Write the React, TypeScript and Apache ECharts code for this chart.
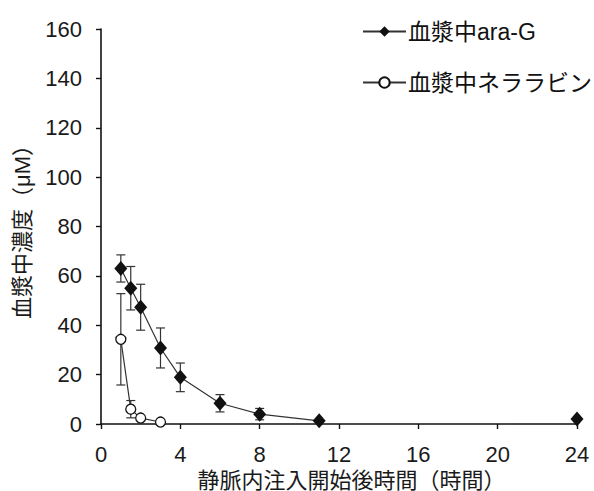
import React, { useEffect, useRef } from "react";
import * as echarts from "echarts";

const araTime = [1, 1.5, 2, 3, 4, 6, 8, 11];
const araMean = [63, 55, 47.3, 30.8, 18.9, 8.4, 4.0, 1.3];
const araSD = [5.5, 8.8, 9.3, 8.1, 5.8, 3.5, 2.3, 0];
const araLateTime = [24];
const araLateMean = [2.0];

const nelTime = [1, 1.5, 2, 3];
const nelMean = [34.3, 6.0, 2.4, 0.8];
const nelSD = [18.5, 3.5, 0, 0];

const xTicks = [0, 4, 8, 12, 16, 20, 24];
const yTicks = [0, 20, 40, 60, 80, 100, 120, 140, 160];

const FONT = "'Liberation Sans', 'Noto Sans CJK JP', sans-serif";

function errData(t: number[], m: number[], s: number[]) {
  return t
    .map((x, i) => [x, m[i] - s[i], m[i] + s[i]])
    .filter((_, i) => s[i] > 0);
}

function errRender(params: any, api: any) {
  const x = api.value(0);
  const lo = api.coord([x, api.value(1)]);
  const hi = api.coord([x, api.value(2)]);
  const cap = 4.5;
  const style = { stroke: "#333", lineWidth: 1.2 };
  return {
    type: "group",
    children: [
      { type: "line", shape: { x1: lo[0], y1: lo[1], x2: hi[0], y2: hi[1] }, style },
      { type: "line", shape: { x1: lo[0] - cap, y1: lo[1], x2: lo[0] + cap, y2: lo[1] }, style },
      { type: "line", shape: { x1: hi[0] - cap, y1: hi[1], x2: hi[0] + cap, y2: hi[1] }, style },
    ],
  };
}

export default function App() {
  const ref = useRef<HTMLDivElement>(null);
  useEffect(() => {
    const chart = echarts.init(ref.current!, null, { renderer: "svg" });
    const araName = "血漿中ara-G";
    const nelName = "血漿中ネララビン";
    chart.setOption({
      animation: false,
      textStyle: { fontFamily: FONT },
      grid: { left: 101, right: 17, top: 29, bottom: 67, outerBoundsMode: "none", containLabel: false },
      legend: {
        orient: "vertical",
        left: 357,
        top: 15,
        padding: 5,
        itemGap: 28,
        itemWidth: 43,
        itemHeight: 13,
        data: [araName, nelName],
        textStyle: { fontSize: 23, color: "#111", fontFamily: FONT, padding: [0, 0, 0, -3] },
      },
      xAxis: {
        type: "value",
        min: 0,
        max: 24,
        interval: 4,
        name: "静脈内注入開始後時間（時間）",
        nameLocation: "middle",
        nameGap: 45,
        nameTextStyle: {
          fontSize: 22,
          lineHeight: 22,
          color: "#1a1a1a",
          fontFamily: FONT,
          padding: [0, 0, 0, 25],
        },
        axisLine: { lineStyle: { color: "#111", width: 1.6 } },
        axisTick: { show: true, length: 5, lineStyle: { color: "#111", width: 1.4 } },
        axisLabel: { fontSize: 22, color: "#1a1a1a", margin: 19 },
        splitLine: { show: false },
      },
      yAxis: {
        type: "value",
        min: 0,
        max: 160,
        interval: 20,
        name: "血漿中濃度（μM）",
        nameLocation: "middle",
        nameGap: 68,
        nameTextStyle: { fontSize: 22, color: "#1a1a1a", fontFamily: FONT },
        axisLine: { show: true, lineStyle: { color: "#111", width: 1.6 } },
        axisTick: { show: true, length: 5, lineStyle: { color: "#111", width: 1.4 } },
        axisLabel: { fontSize: 22, color: "#1a1a1a", margin: 19 },
        splitLine: { show: false },
      },
      series: [
        {
          type: "custom",
          name: "errAra",
          renderItem: errRender,
          data: errData(araTime, araMean, araSD),
          z: 1,
          silent: true,
        },
        {
          type: "custom",
          name: "errNel",
          renderItem: errRender,
          data: errData(nelTime, nelMean, nelSD),
          z: 1,
          silent: true,
        },
        {
          type: "line",
          name: araName,
          data: araTime.map((x, i) => [x, araMean[i]]),
          symbol: "diamond",
          symbolSize: [13, 15],
          showSymbol: true,
          itemStyle: { color: "#111" },
          lineStyle: { color: "#333", width: 1.2 },
          z: 3,
        },
        {
          type: "line",
          name: araName,
          data: araLateTime.map((x, i) => [x, araLateMean[i]]),
          symbol: "diamond",
          symbolSize: [13, 15],
          showSymbol: true,
          itemStyle: { color: "#111" },
          lineStyle: { color: "#333", width: 1.2 },
          z: 3,
        },
        {
          type: "line",
          name: nelName,
          data: nelTime.map((x, i) => [x, nelMean[i]]),
          symbol: "circle",
          symbolSize: 10,
          showSymbol: true,
          itemStyle: { color: "#fff", borderColor: "#111", borderWidth: 1.3 },
          lineStyle: { color: "#333", width: 1.2 },
          z: 3,
        },
      ],
    });
    return () => chart.dispose();
  }, []);
  return (
    <div
      ref={ref}
      style={{ position: "absolute", left: 0, top: 0, width: 594, height: 491, background: "#fff" }}
    />
  );
}
